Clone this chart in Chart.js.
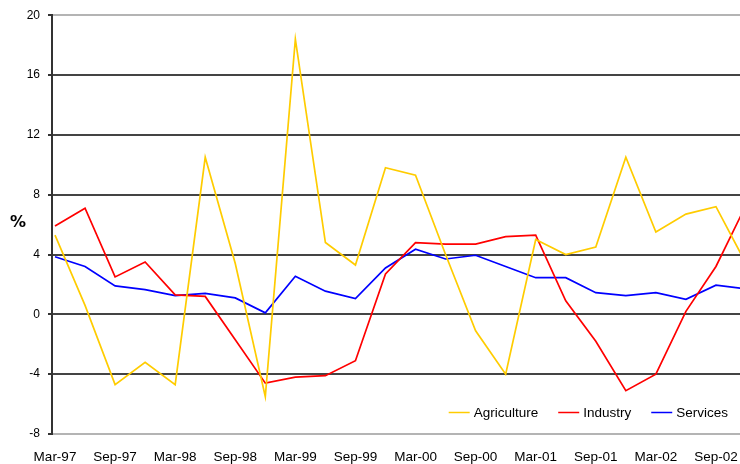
<!DOCTYPE html>
<html><head><meta charset="utf-8">
<script src="https://cdn.jsdelivr.net/npm/chart.js@4"></script>
<style>html,body{margin:0;padding:0;background:#fff;overflow:hidden}
#wrap{position:relative;width:740px;height:464px}</style></head>
<body><div id="wrap"><canvas id="c" width="740" height="464"></canvas></div>
<script>
const quarters = ['Mar-97','Jun-97','Sep-97','Dec-97','Mar-98','Jun-98','Sep-98','Dec-98',
  'Mar-99','Jun-99','Sep-99','Dec-99','Mar-00','Jun-00','Sep-00','Dec-00',
  'Mar-01','Jun-01','Sep-01','Dec-01','Mar-02','Jun-02','Sep-02','Dec-02'];
const agriculture = [5.3, 0.6, -4.7, -3.2, -4.7, 10.5, 3.4, -5.5, 18.4, 4.8, 3.3, 9.8,
  9.3, 4.0, -1.1, -4.0, 5.0, 4.0, 4.5, 10.5, 5.5, 6.7, 7.2, 3.4];
const industry = [5.9, 7.1, 2.5, 3.5, 1.3, 1.2, -1.7, -4.6, -4.2, -4.1, -3.1, 2.7,
  4.8, 4.7, 4.7, 5.2, 5.3, 0.9, -1.8, -5.1, -4.0, 0.2, 3.2, 7.3];
const services = [3.85, 3.2, 1.9, 1.65, 1.25, 1.4, 1.1, 0.1, 2.55, 1.55, 1.05, 3.1,
  4.35, 3.7, 3.95, 3.2, 2.45, 2.45, 1.45, 1.25, 1.45, 1.0, 1.95, 1.7];
const seriesNames = ['Agriculture', 'Industry', 'Services'];
const seriesColors = ['#FFCC00', '#FF0000', '#0000FF'];
const yTickValues = [-8, -4, 0, 4, 8, 12, 16, 20];
const yAxisTitle = '%';

const toPoints = arr => arr.map((v, i) => ({x: i, y: v}));
const FONT = '"Liberation Sans", Arial, sans-serif';

const insideLegend = {
  id: 'insideLegend',
  afterDraw(chart) {
    const ctx = chart.ctx;
    const ca = chart.chartArea;
    ctx.save();
    ctx.font = '13.5px ' + FONT;
    ctx.textBaseline = 'middle';
    const lineLen = 21, gapText = 4, gapItem = 20;
    const items = chart.data.datasets.map(ds => ({label: ds.label, color: ds.borderColor, w: ctx.measureText(ds.label).width}));
    let total = items.reduce((s, it) => s + lineLen + gapText + it.w, 0) + gapItem * (items.length - 1);
    let x = ca.right - 12 - total;
    const y = ca.bottom - 21.5;
    items.forEach(it => {
      ctx.strokeStyle = it.color; ctx.lineWidth = 1.5;
      ctx.beginPath(); ctx.moveTo(x, y); ctx.lineTo(x + lineLen, y); ctx.stroke();
      ctx.fillStyle = '#000';
      ctx.fillText(it.label, x + lineLen + gapText, y + 0.5);
      x += lineLen + gapText + it.w + gapItem;
    });
    // y-axis title
    ctx.font = 'bold 16px "DejaVu Sans", Arial, sans-serif';
    ctx.textAlign = 'center';
    ctx.fillText(yAxisTitle, 18, chart.scales.y.getPixelForValue(6.2) + 1.5);
    ctx.restore();
  }
};

new Chart(document.getElementById('c'), {
  type: 'line',
  data: {
    datasets: [
      {label: seriesNames[0], data: toPoints(agriculture), borderColor: seriesColors[0]},
      {label: seriesNames[1], data: toPoints(industry), borderColor: seriesColors[1]},
      {label: seriesNames[2], data: toPoints(services), borderColor: seriesColors[2]}
    ]
  },
  options: {
    responsive: false,
    animation: false,
    layout: {padding: {top: 15, right: 0, bottom: 0, left: 0}},
    elements: {
      line: {borderWidth: 1.7, tension: 0, fill: false},
      point: {radius: 0, hoverRadius: 0}
    },
    plugins: {legend: {display: false}, tooltip: {enabled: false}},
    scales: {
      x: {
        type: 'linear',
        min: -0.1,
        max: 22.8,
        grid: {display: false, drawTicks: false},
        border: {display: false},
        afterBuildTicks: s => {
          s.ticks = quarters.map((q, i) => ({value: i})).filter(t => t.value % 2 === 0 && t.value <= 22);
        },
        afterFit: s => { s.height = 30; s.paddingRight = 0; s.paddingLeft = 0; },
        ticks: {
          autoSkip: false, maxRotation: 0, padding: 15,
          color: '#000', font: {family: FONT, size: 13.5},
          callback: v => quarters[v]
        }
      },
      y: {
        min: -8, max: 20,
        afterBuildTicks: s => { s.ticks = yTickValues.map(v => ({value: v})); },
        afterFit: s => { s.width = 52; },
        grid: {
          color: c => (c.tick && (c.tick.value === 20 || c.tick.value === -8)) ? '#b4b4b4' : '#444444',
          lineWidth: 2,
          tickLength: 4,
          tickColor: '#333333',
          drawTicks: true
        },
        border: {display: true, color: '#333333', width: 2},
        ticks: {
          padding: 8, color: '#000', font: {family: FONT, size: 12},
          callback: v => String(v)
        }
      }
    }
  },
  plugins: [insideLegend]
});
</script>
</body></html>
